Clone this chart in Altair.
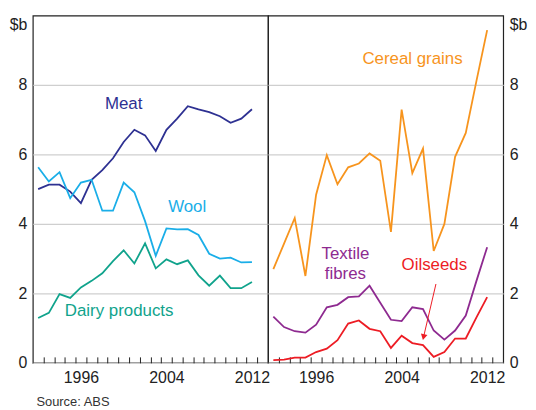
import altair as alt
import pandas as pd

years = list(range(1992, 2013))
meat = [5.0, 5.13, 5.13, 4.93, 4.6, 5.27, 5.55, 5.89, 6.36, 6.71, 6.55, 6.1, 6.71, 7.03, 7.39, 7.3, 7.22, 7.1, 6.91, 7.03, 7.3]
wool = [5.63, 5.22, 5.49, 4.74, 5.19, 5.27, 4.38, 4.38, 5.19, 4.91, 4.08, 3.08, 3.87, 3.84, 3.85, 3.68, 3.14, 3.0, 3.03, 2.89, 2.9]
dairy = [1.29, 1.44, 1.98, 1.87, 2.17, 2.36, 2.58, 2.93, 3.24, 2.86, 3.44, 2.72, 2.98, 2.84, 2.95, 2.52, 2.22, 2.51, 2.15, 2.15, 2.33]
cereal = [2.70, 3.43, 4.17, 2.5, 4.84, 5.98, 5.14, 5.63, 5.74, 6.03, 5.82, 3.77, 7.29, 5.46, 6.17, 3.22, 4.0, 5.93, 6.62, 8.12, 9.58]
textile = [1.33, 1.03, 0.91, 0.87, 1.1, 1.6, 1.67, 1.89, 1.91, 2.22, 1.73, 1.24, 1.2, 1.6, 1.55, 0.93, 0.67, 0.93, 1.36, 2.36, 3.33]
oilseeds = [0.08, 0.09, 0.15, 0.15, 0.31, 0.41, 0.65, 1.13, 1.22, 0.98, 0.91, 0.43, 0.78, 0.57, 0.51, 0.17, 0.31, 0.7, 0.7, 1.31, 1.89]

series_names = ["Meat", "Wool", "Dairy products", "Cereal grains", "Textile fibres", "Oilseeds"]
series_colors = ["#2e3192", "#1aaee8", "#10a38c", "#f7941d", "#8e2a90", "#ed1c24"]

x_label_years = [1996, 2004, 2012]
x_tick_years = [y + 0.5 for y in range(1992, 2013)]
y_ticks = [0, 2, 4, 6, 8]
y_unit_pos = [10]

left_labels = pd.DataFrame({
    "text": ["Meat", "Wool", "Dairy products"],
    "x": [2000.0, 2005.94, 1999.57],
    "y": [7.44, 4.49, 1.48],
    "series": ["Meat", "Wool", "Dairy products"],
})
right_labels = pd.DataFrame({
    "text": ["Cereal grains", "Textile", "fibres", "Oilseeds"],
    "x": [2005.02, 1998.74, 1998.74, 2007.06],
    "y": [8.76, 3.14, 2.57, 2.82],
    "series": ["Cereal grains", "Textile fibres", "Textile fibres", "Oilseeds"],
})
arrow = pd.DataFrame({"x1": [2007.21], "y1": [2.27], "x2": [2006.05], "y2": [0.74]})

def long(names, vals):
    rows = []
    for n, v in zip(names, vals):
        for yr, val in zip(years, v):
            rows.append({"year": yr, "value": val, "series": n})
    return pd.DataFrame(rows)

left_df = long(["Meat", "Wool", "Dairy products"], [meat, wool, dairy])
right_df = long(["Cereal grains", "Textile fibres", "Oilseeds"], [cereal, textile, oilseeds])

xscale = alt.Scale(domain=[1991.5, 2013.5], nice=False, zero=False)
yscale = alt.Scale(domain=[0, 10], nice=False)
cscale = alt.Scale(domain=series_names, range=series_colors)

label_axis = alt.Axis(values=x_label_years, format="d", ticks=False, domain=False, grid=False,
                      labelFontSize=16, labelPadding=7, labelFlush=False, labelColor="#222",
                      title=None, orient="bottom")
tick_axis = alt.Axis(values=x_tick_years, labels=False, domain=False, ticks=True, tickSize=6,
                     tickColor="#222", tickWidth=1, grid=False, offset=-6, title=None, orient="bottom")

def yaxis(orient):
    return alt.Axis(values=y_ticks, ticks=False, domain=False, grid=True, gridColor="#cfcfcf",
                    gridWidth=1.3, labelFontSize=16, labelPadding=6, labelColor="#222",
                    labelFlush=False, title=None, orient=orient)

def unit_axis(orient):
    return alt.Axis(values=y_unit_pos, labelExpr="'$b'", labelOffset=9, ticks=False, domain=False,
                    grid=False, labelFontSize=16, labelPadding=6, labelColor="#222",
                    labelFlush=False, title=None, orient=orient)

def panel(df, labels, orient, extra=None):
    lines = alt.Chart(df).mark_line(strokeWidth=1.8).encode(
        x=alt.X("year:Q", scale=xscale, axis=label_axis),
        y=alt.Y("value:Q", scale=yscale, axis=yaxis(orient)),
        color=alt.Color("series:N", scale=cscale, legend=None),
        detail="series:N",
    )
    text = alt.Chart(labels).mark_text(fontSize=17, baseline="middle", align="center").encode(
        x=alt.X("x:Q", scale=xscale, axis=tick_axis),
        y=alt.Y("y:Q", scale=yscale, axis=unit_axis(orient)),
        text="text:N",
        color=alt.Color("series:N", scale=cscale, legend=None),
    )
    layers = [lines, text]
    if extra is not None:
        layers += extra
    return (alt.layer(*layers).properties(width=237, height=350)
            .resolve_axis(x="independent", y="independent"))

arrow_line = alt.Chart(arrow).mark_rule(color="#ed1c24", strokeWidth=1).encode(
    x=alt.X("x1:Q", scale=xscale, axis=None),
    y=alt.Y("y1:Q", scale=yscale, axis=None),
    x2="x2:Q", y2="y2:Q",
)
arrow_head = alt.Chart(arrow).mark_point(shape="triangle-down", filled=True, size=45, angle=13,
                                         color="#ed1c24", opacity=1).encode(
    x=alt.X("x2:Q", scale=xscale, axis=None),
    y=alt.Y("y2:Q", scale=yscale, axis=None),
)

left = panel(left_df, left_labels, "left")
right = panel(right_df, right_labels, "right", [arrow_line, arrow_head])

chart = alt.hconcat(left, right, spacing=0, bounds="flush").properties(
    padding={"left": 0, "top": 5, "right": 0, "bottom": 5},
    title=alt.TitleParams("Source: ABS", orient="bottom", anchor="start", fontSize=13,
                          fontWeight="normal", color="#333", dx=28, offset=10,
                          font="Liberation Sans"),
).configure(font="Liberation Sans").configure_view(stroke="#222", strokeWidth=1.2)

chart.save("out.html", embed_options={"renderer": "svg", "actions": False})
